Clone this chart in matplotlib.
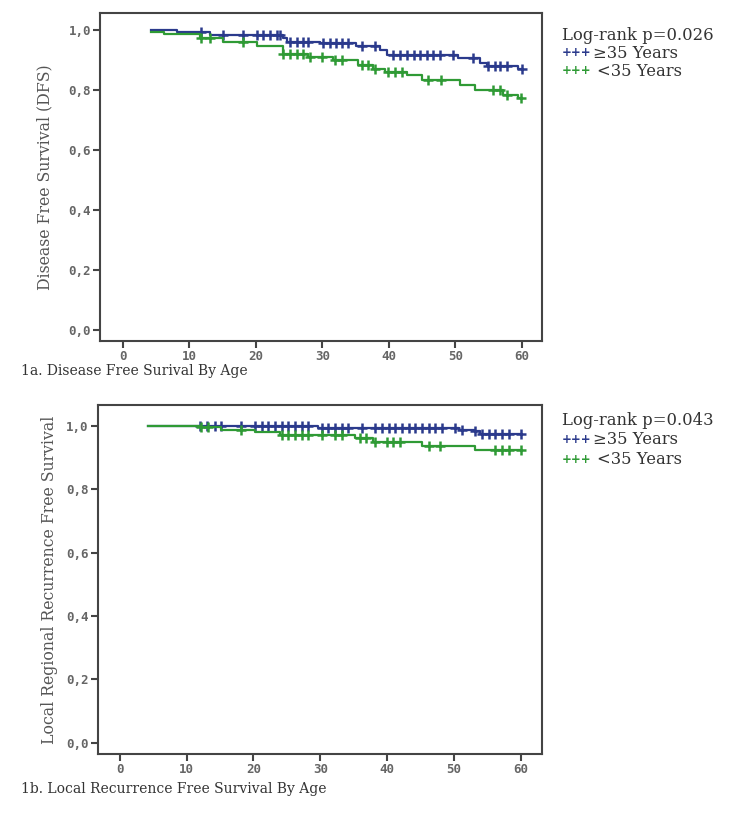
import numpy as np
import matplotlib
matplotlib.use("Agg")
import matplotlib.pyplot as plt

BLUE = "#2b3a8c"
GREEN = "#2f9a35"

# ---- 1a. Disease free survival ----
a_start = 4.2
a_end = 60.0
a_old_s0 = 1.0
a_old_t = [8.2, 13.1, 24.0, 24.6, 29.6, 35.1, 38.6, 39.7, 50.4, 53.7, 54.7, 59.4]
a_old_s = [0.994, 0.983, 0.972, 0.961, 0.956, 0.947, 0.933, 0.917, 0.907, 0.889, 0.880, 0.869]
a_old_cens = [11.8, 15.1, 18.1, 20.1, 21.1, 22.1, 23.1, 23.6, 25.1, 26.1, 27.1, 27.9,
              30.1, 31.1, 32.1, 32.9, 33.9, 35.9, 37.9, 40.6, 41.7, 42.7, 43.7, 44.7,
              45.7, 46.7, 47.7, 49.7, 52.7, 54.9, 55.9, 56.7, 57.7, 60.0]
a_young_s0 = 0.994
a_young_t = [6.1, 11.6, 15.1, 20.1, 24.0, 27.9, 31.6, 35.4, 37.6, 39.4, 42.7, 44.9,
             50.7, 52.9, 57.2, 59.4]
a_young_s = [0.987, 0.972, 0.961, 0.947, 0.920, 0.909, 0.900, 0.883, 0.869, 0.861,
             0.850, 0.833, 0.817, 0.800, 0.783, 0.772]
a_young_cens = [11.8, 13.1, 18.1, 24.1, 25.1, 26.1, 27.1, 28.1, 29.9, 31.9, 32.9, 35.9,
                36.9, 37.9, 39.9, 40.9, 41.9, 45.9, 47.9, 55.7, 56.7, 57.7, 59.8]

# ---- 1b. Local recurrence free survival ----
b_start = 4.2
b_end = 60.0
b_old_s0 = 1.0
b_old_t = [29.6, 50.7, 53.2, 53.9]
b_old_s = [0.993, 0.988, 0.983, 0.974]
b_old_cens = [12.0, 13.0, 14.2, 15.2, 18.2, 20.2, 21.2, 22.2, 23.2, 24.2, 25.2, 26.2,
              27.2, 28.2, 30.2, 31.2, 32.2, 33.2, 34.2, 36.2, 38.2, 39.2, 40.2, 41.2,
              42.2, 43.2, 44.2, 45.2, 46.2, 47.2, 48.2, 50.2, 51.2, 53.2, 54.2, 55.2,
              56.2, 57.2, 58.2, 60.0]
b_young_s0 = 1.0
b_young_t = [12.0, 15.2, 20.2, 24.0, 35.2, 37.9, 45.2, 53.2]
b_young_s = [0.995, 0.988, 0.981, 0.970, 0.962, 0.949, 0.938, 0.925]
b_young_cens = [12.2, 13.2, 18.2, 24.2, 25.2, 26.2, 27.2, 28.2, 30.2, 32.2, 33.2, 35.9,
                36.9, 38.2, 39.9, 40.9, 41.9, 46.2, 47.9, 56.2, 57.2, 58.2, 60.0]

xticks = [0, 10, 20, 30, 40, 50, 60]
yticks = [0.0, 0.2, 0.4, 0.6, 0.8, 1.0]
ytick_labels = ["0,0", "0,2", "0,4", "0,6", "0,8", "1,0"]


def km(ax, start, end, s0, t, s, cens, color):
    times = np.array([start] + t + [end])
    vals = np.array([s0] + s + [s[-1]])
    ax.step(times, vals, where="post", color=color, lw=1.6)
    idx = np.searchsorted(times, np.array(cens), side="right") - 1
    ax.plot(cens, vals[idx], ls="none", marker="+", ms=6.5, mew=1.8, color=color)


def style(ax, xlim, ylim, ylabel, labx):
    ax.set_xlim(*xlim)
    ax.set_ylim(*ylim)
    ax.set_xticks(xticks)
    ax.set_xticklabels([str(v) for v in xticks])
    ax.set_yticks(yticks)
    ax.set_yticklabels(ytick_labels)
    for lab in ax.get_xticklabels() + ax.get_yticklabels():
        lab.set_family("DejaVu Sans Mono")
        lab.set_fontweight("bold")
        lab.set_fontsize(9)
        lab.set_color("#666666")
    ax.tick_params(direction="out", length=5, width=1.5, color="#444444", pad=1.5)
    for sp in ax.spines.values():
        sp.set_color("#444444")
        sp.set_linewidth(1.5)
    ax.set_ylabel(ylabel, family="DejaVu Serif", fontsize=11.3, color="#555555")
    ax.yaxis.set_label_coords(labx, 0.5)


fig = plt.figure(figsize=(7.46, 8.13), dpi=100)

ax1 = fig.add_axes([0.134, 0.5806, 0.592, 0.4034])
km(ax1, a_start, a_end, a_old_s0, a_old_t, a_old_s, a_old_cens, BLUE)
km(ax1, a_start, a_end, a_young_s0, a_young_t, a_young_s, a_young_cens, GREEN)
style(ax1, (-3.46, 62.96), (-0.037, 1.057), "Disease Free Survival (DFS)", -0.106)

ax2 = fig.add_axes([0.131, 0.0726, 0.595, 0.4293])
km(ax2, b_start, b_end, b_old_s0, b_old_t, b_old_s, b_old_cens, BLUE)
km(ax2, b_start, b_end, b_young_s0, b_young_t, b_young_s, b_young_cens, GREEN)
style(ax2, (-3.3, 63.1), (-0.035, 1.066), "Local Regional Recurrence Free Survival", -0.09)

W, H = 746, 813
serif = dict(family="DejaVu Serif", color="#333333")
fig.text(21 / W, 1 - 371 / H, "1a. Disease Free Surival By Age", fontsize=10,
         va="center", **serif)
fig.text(21 / W, 1 - 789 / H, "1b. Local Recurrence Free Survival By Age", fontsize=10,
         va="center", **serif)


def legend(y0, dy, p):
    fig.text(562 / W, 1 - y0 / H, "Log-rank p=" + p, fontsize=11.8, va="center", **serif)
    fig.text(562 / W, 1 - (y0 + dy) / H, "+++", fontsize=8.5, fontweight="bold",
             va="center", color=BLUE, family="DejaVu Sans")
    fig.text(593 / W, 1 - (y0 + dy) / H, "\u226535 Years", fontsize=11.8, va="center", **serif)
    fig.text(562 / W, 1 - (y0 + 2 * dy) / H, "+++", fontsize=8.5, fontweight="bold",
             va="center", color=GREEN, family="DejaVu Sans")
    fig.text(597 / W, 1 - (y0 + 2 * dy) / H, "<35 Years", fontsize=11.8, va="center", **serif)


legend(35, 18, "0.026")
legend(420, 19.5, "0.043")

fig.savefig("out.png", dpi=100)
